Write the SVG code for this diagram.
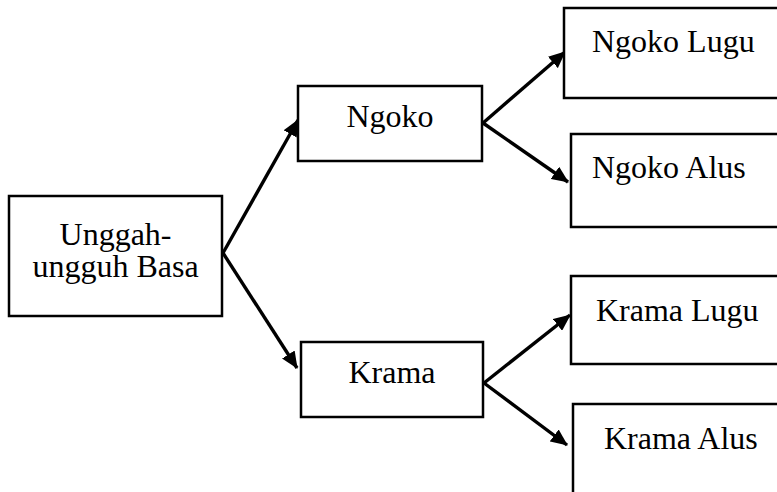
<svg xmlns="http://www.w3.org/2000/svg" width="777" height="492" viewBox="0 0 777 492">
<style>
.box{fill:#fff;stroke:#000;stroke-width:2.5}
.lbl{font-family:"Liberation Serif","Times New Roman",serif;font-size:32px;fill:#000}
.conn{stroke:#000;stroke-width:3.4;fill:none;marker-end:url(#ah)}
</style>
<defs>
<marker id="ah" markerUnits="userSpaceOnUse" markerWidth="17" markerHeight="15" refX="16" refY="7.5" orient="auto">
<path d="M0,0 L17,7.5 L0,15 Z" fill="#000"/>
</marker>
</defs>
<rect width="777" height="492" fill="#fff"/>
<g id="connectors">
<line class="conn" x1="223" y1="253" x2="298" y2="120"/>
<line class="conn" x1="223" y1="253" x2="297" y2="368"/>
<line class="conn" x1="483" y1="123" x2="565" y2="52"/>
<line class="conn" x1="483" y1="123" x2="568" y2="182"/>
<line class="conn" x1="484" y1="383" x2="570" y2="315"/>
<line class="conn" x1="484" y1="383" x2="567" y2="445"/>
</g>
<g id="node-unggah">
<rect class="box" x="9" y="196" width="213" height="120"/>
<text class="lbl" x="115.5" y="245" text-anchor="middle">Unggah-</text>
<text class="lbl" x="115.5" y="277" text-anchor="middle">ungguh Basa</text>
</g>
<g id="node-ngoko">
<rect class="box" x="298" y="86" width="184" height="75"/>
<text class="lbl" x="390" y="127" text-anchor="middle">Ngoko</text>
</g>
<g id="node-krama">
<rect class="box" x="301" y="342" width="182" height="75"/>
<text class="lbl" x="392" y="383" text-anchor="middle">Krama</text>
</g>
<g id="node-ngoko-lugu">
<rect class="box" x="564" y="8" width="220" height="90"/>
<text class="lbl" x="592" y="52">Ngoko Lugu</text>
</g>
<g id="node-ngoko-alus">
<rect class="box" x="571" y="134" width="220" height="93"/>
<text class="lbl" x="592" y="178">Ngoko Alus</text>
</g>
<g id="node-krama-lugu">
<rect class="box" x="571" y="276" width="220" height="88"/>
<text class="lbl" x="596" y="321">Krama Lugu</text>
</g>
<g id="node-krama-alus">
<rect class="box" x="573" y="404" width="220" height="100"/>
<text class="lbl" x="604" y="449">Krama Alus</text>
</g>
</svg>
